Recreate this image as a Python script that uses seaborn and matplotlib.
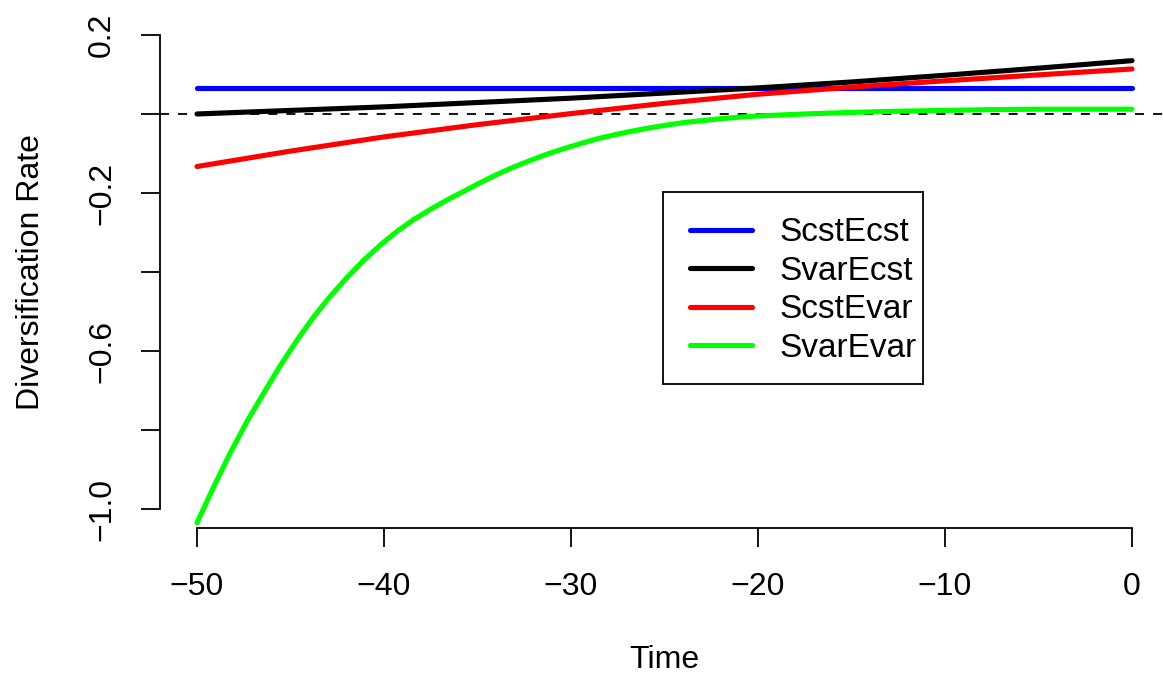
import numpy as np
import pandas as pd
import matplotlib
matplotlib.use("Agg")
import matplotlib.pyplot as plt
from matplotlib.patches import Rectangle
import seaborn as sns

# Diversification rate through time for four birth-death models
series_names = ["ScstEcst", "SvarEcst", "ScstEvar", "SvarEvar"]
series_colors = ["#0000FF", "#000000", "#FF0000", "#00FF00"]

time_cst_ecst = [-50, 0]
rate_cst_ecst = [0.067, 0.067]

time_var_ecst = [-50, -45, -40, -35, -30, -25, -20, -15, -10, -5, 0]
rate_var_ecst = [0.000, 0.009, 0.018, 0.029, 0.040, 0.053, 0.066, 0.081, 0.098, 0.116, 0.135]

time_cst_evar = [-50, -45, -40, -35, -30, -25, -20, -15, -10, -5, 0]
rate_cst_evar = [-0.133, -0.094, -0.058, -0.027, 0.001, 0.027, 0.050, 0.068, 0.084, 0.099, 0.114]

time_var_evar = [-50.0, -49.1, -48.2, -47.3, -46.4, -45.6, -44.7, -43.8, -42.9, -42.0,
                 -41.1, -40.2, -39.3, -38.4, -37.5, -36.6, -35.7, -34.9, -34.0, -33.1,
                 -32.2, -31.3, -30.4, -29.5, -28.6, -27.7, -26.8, -25.9, -25.0, -24.0,
                 -23.0, -22.0, -21.0, -20.0, -17.5, -15.0, -12.5, -10.0, -7.5, -5.0,
                 -2.5, 0.0]
rate_var_evar = [-1.035, -0.943, -0.856, -0.776, -0.704, -0.641, -0.576, -0.516, -0.463, -0.415,
                 -0.371, -0.332, -0.297, -0.267, -0.241, -0.217, -0.195, -0.175, -0.154, -0.135,
                 -0.118, -0.102, -0.088, -0.075, -0.063, -0.053, -0.044, -0.036, -0.029, -0.022,
                 -0.017, -0.012, -0.008, -0.005, 0.000, 0.004, 0.007, 0.009, 0.011, 0.012,
                 0.012, 0.012]

x_ticks = [-50, -40, -30, -20, -10, 0]
x_tick_labels = ["\u221250", "\u221240", "\u221230", "\u221220", "\u221210", "0"]
y_ticks = [0.2, 0.0, -0.2, -0.4, -0.6, -0.8, -1.0]
y_tick_labels = ["0.2", "", "\u22120.2", "", "\u22120.6", "", "\u22121.0"]

frames = []
for name, t, r in [
    (series_names[0], time_cst_ecst, rate_cst_ecst),
    (series_names[1], time_var_ecst, rate_var_ecst),
    (series_names[2], time_cst_evar, rate_cst_evar),
    (series_names[3], time_var_evar, rate_var_evar),
]:
    frames.append(pd.DataFrame({"Time": t, "Rate": r, "Model": name}))
df = pd.concat(frames, ignore_index=True)

sns.set_theme(style="white")
plt.rcParams["font.family"] = ["Liberation Sans", "DejaVu Sans"]

W, H, DPI = 1163, 675, 100
fig = plt.figure(figsize=(W / DPI, H / DPI), dpi=DPI)
# plot region in pixel terms
left_px, right_px, top_px, bottom_px = 159.6, 1169.4, 16.0, 528.0
ax = fig.add_axes([left_px / W, 1 - bottom_px / H,
                   (right_px - left_px) / W, (bottom_px - top_px) / H])
ax.set_facecolor("white")

ax.axhline(0, color="black", lw=1.3, linestyle=(0, (5, 5)), zorder=1)

sns.lineplot(data=df, x="Time", y="Rate", hue="Model", hue_order=series_names,
             palette=dict(zip(series_names, series_colors)), estimator=None,
             sort=False, lw=3.7, ax=ax, zorder=2)
for line in ax.get_lines():
    line.set_solid_capstyle("round")
    line.set_solid_joinstyle("round")

ax.set_xlim(-52, 2)
ax.set_ylim(-1.048, 0.248)

ax.set_xticks(x_ticks)
ax.set_xticklabels(x_tick_labels)
ax.set_yticks(y_ticks)
ax.set_yticklabels(y_tick_labels, rotation=90, va="center")

for side in ["top", "right"]:
    ax.spines[side].set_visible(False)
ax.spines["left"].set_bounds(-1.0, 0.2)
ax.spines["bottom"].set_bounds(-50, 0)
for side in ["left", "bottom"]:
    ax.spines[side].set_linewidth(1.3)
    ax.spines[side].set_color("black")

ax.tick_params(axis="both", direction="out", length=13.5, width=1.3,
               color="black", labelsize=23, labelcolor="black", bottom=True, left=True)
ax.tick_params(axis="x", pad=18)
ax.tick_params(axis="y", pad=17)

ax.set_xlabel("Time", fontsize=23, color="black", labelpad=31)
ax.set_ylabel("Diversification Rate", fontsize=23, color="black", labelpad=30)

# legend box drawn as a plain rectangle, entries placed inside it
box_x0, box_x1, box_y0, box_y1 = -25.08, -11.18, -0.684, -0.197
ax.add_patch(Rectangle((box_x0, box_y0), box_x1 - box_x0, box_y1 - box_y0,
                       fill=True, facecolor="white", edgecolor="black", lw=1.3, zorder=5))
leg = ax.legend(loc="upper left", bbox_to_anchor=(-23.62, -0.262),
                bbox_transform=ax.transData, borderaxespad=0, borderpad=0, fontsize=24,
                frameon=False, handlelength=1.86, handletextpad=0.82,
                labelspacing=0.225, title=None, labelcolor="black")
leg.set_zorder(6)
for h in leg.get_lines():
    h.set_linewidth(3.7)
    h.set_solid_capstyle("round")

fig.savefig("out.png", dpi=DPI, facecolor="white")
